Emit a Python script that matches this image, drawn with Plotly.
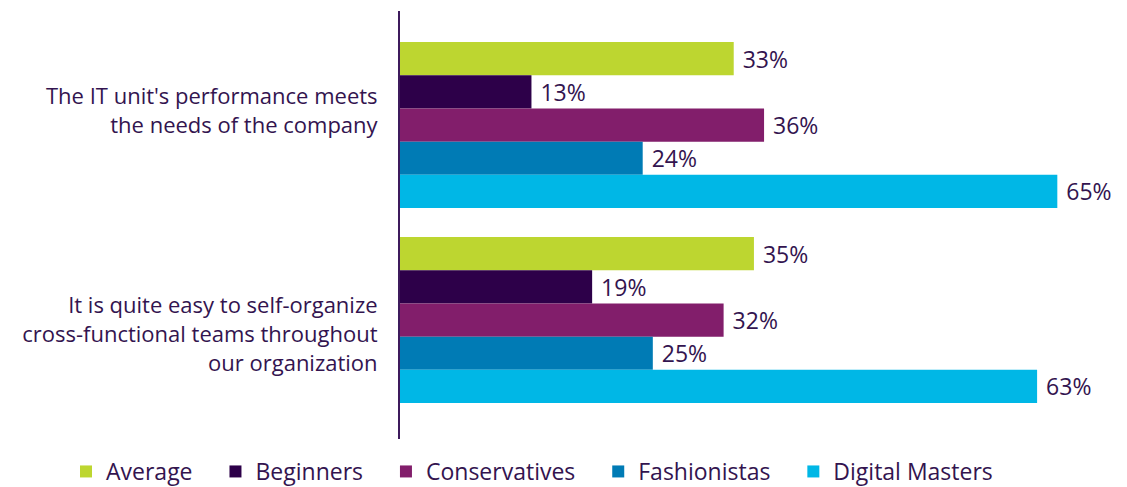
import plotly.graph_objects as go

categories = ["The IT unit's performance meets<br>the needs of the company",
              "It is quite easy to self-organize<br>cross-functional teams throughout<br>our organization"]
series_names = ["Average", "Beginners", "Conservatives", "Fashionistas", "Digital Masters"]
values = {
    "Average": [33, 35],
    "Beginners": [13, 19],
    "Conservatives": [36, 32],
    "Fashionistas": [24, 25],
    "Digital Masters": [65, 63],
}
colors = ["#BDD630", "#2D0049", "#821E6B", "#007BB5", "#00B7E6"]
text_color = "#33144F"
font_family = "Open Sans"

# labels sit slightly off-centre in the reference: pad with a blank line
tick_text = [categories[0] + "<br>\u00a0", "\u00a0<br>" + categories[1]]
legend_pad = "\u00a0" * 3

fig = go.Figure()
for name, col in zip(series_names, colors):
    v = values[name]
    fig.add_trace(go.Bar(
        y=categories, x=v, name=name + legend_pad, orientation="h",
        marker=dict(color=col, line=dict(width=0)),
        text=[f" {x}%" for x in v], textposition="outside",
        textfont=dict(size=23, color=text_color, family=font_family),
        cliponaxis=False,
    ))

fig.update_layout(
    width=1127, height=487,
    margin=dict(l=400, r=9, t=11, b=48, autoexpand=False),
    barmode="group", bargap=0.149, bargroupgap=0,
    plot_bgcolor="white", paper_bgcolor="white",
    font=dict(family=font_family, color=text_color, size=21),
    showlegend=True,
    legend=dict(orientation="h", x=(66 - 400) / 718, xanchor="left",
                y=-(493 - 439) / 428, yanchor="bottom",
                font=dict(size=23, color=text_color, family=font_family),
                itemclick=False, traceorder="normal", itemwidth=30),
)
fig.update_xaxes(range=[0, 71], visible=False, showgrid=False, zeroline=False)
fig.update_yaxes(type="category", categoryarray=categories, range=[1.61, -0.585],
                 tickvals=categories, ticktext=tick_text,
                 showline=True, linecolor="#3D1A5C",
                 linewidth=2, showgrid=False, ticks="", ticklabelstandoff=16, automargin=False,
                 tickfont=dict(size=22, color=text_color, family=font_family))

fig.write_html("out.html", post_script="document.body.style.margin='0px';",
               config={"displayModeBar": False})
